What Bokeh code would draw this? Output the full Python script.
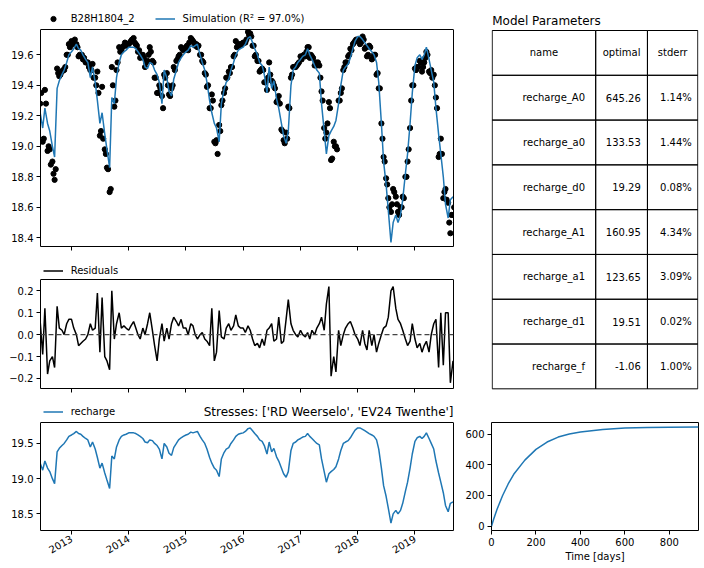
import math
from datetime import datetime
import pandas as pd
from bokeh.plotting import figure
from bokeh.layouts import row, column
from bokeh.models import (Range1d, FixedTicker, Legend, LegendItem, Label, Span,
                          ColumnDataSource, LinearAxis)
from bokeh.embed import file_html
from bokeh.resources import INLINE
from bokeh.core.properties import value

FONT = "DejaVu Sans"

# ---------------- data ----------------
# sample dates: 1st and 15th of each month
dates = pd.date_range("2012-06-15", "2019-09-01", freq="SMS")
# extra observation dates one week later (8th and 22nd)
mid_dates = dates + pd.Timedelta(days=7)

sim_2012 = [19.22, 19.12, 19.25, 19.15, 19.10, 19.00, 18.93, 19.38, 19.43, 19.47, 19.50, 19.55, 19.60]
sim_2013 = [19.62, 19.64, 19.67, 19.64, 19.63, 19.60, 19.57, 19.55, 19.45, 19.52, 19.42, 19.30,
            19.15, 19.22, 19.08, 18.98, 18.86, 19.32, 19.28, 19.45, 19.55, 19.60, 19.62, 19.63]
sim_2014 = [19.65, 19.65, 19.65, 19.64, 19.62, 19.60, 19.57, 19.52, 19.51, 19.55, 19.54, 19.50,
            19.47, 19.42, 19.28, 19.50, 19.45, 19.36, 19.33, 19.44, 19.50, 19.55, 19.58, 19.60]
sim_2015 = [19.62, 19.63, 19.66, 19.65, 19.66, 19.67, 19.60, 19.55, 19.50, 19.42, 19.30, 19.22,
            19.15, 19.12, 19.03, 19.28, 19.37, 19.42, 19.44, 19.50, 19.55, 19.60, 19.63, 19.64]
sim_2016 = [19.65, 19.67, 19.71, 19.72, 19.68, 19.64, 19.60, 19.55, 19.53, 19.47, 19.35, 19.52,
            19.38, 19.43, 19.31, 19.25, 19.15, 19.07, 19.02, 19.10, 19.40, 19.50, 19.52, 19.55]
sim_2017 = [19.57, 19.59, 19.60, 19.64, 19.60, 19.57, 19.53, 19.50, 19.48, 19.28, 19.10, 18.95,
            19.07, 19.10, 19.13, 19.17, 19.28, 19.40, 19.50, 19.52, 19.54, 19.58, 19.64, 19.69]
sim_2018 = [19.72, 19.72, 19.70, 19.68, 19.66, 19.64, 19.62, 19.60, 19.55, 19.42, 19.15, 18.90,
            18.75, 18.58, 18.37, 18.50, 18.55, 18.50, 18.55, 18.65, 18.82, 18.95, 19.15, 19.35]
sim_2019 = [19.53, 19.58, 19.60, 19.57, 19.60, 19.65, 19.57, 19.50, 19.42, 19.25, 19.08, 18.95,
            18.80, 18.62, 18.53, 18.65, 18.67]

res_2012 = [0.06, -0.09, 0.12, -0.18, -0.12, -0.10, -0.15, 0.13, 0.03, 0.02, 0.00, 0.05, 0.07]
res_2013 = [0.07, 0.03, 0.00, -0.05, -0.04, -0.03, -0.02, 0.00, 0.05, 0.02, 0.03, 0.19,
            -0.08, 0.17, -0.10, -0.12, -0.16, 0.20, -0.02, 0.05, 0.10, 0.03, 0.04, 0.03]
res_2014 = [0.02, 0.04, 0.06, 0.03, 0.00, -0.02, 0.03, 0.00, 0.05, 0.10, 0.02, -0.05,
            -0.12, -0.02, 0.05, -0.03, 0.03, -0.02, 0.05, 0.08, 0.06, 0.04, 0.07, 0.03]
res_2015 = [0.03, 0.00, 0.05, 0.04, 0.00, -0.02, 0.00, 0.01, -0.02, -0.03, -0.05, 0.12,
            -0.12, -0.08, 0.11, -0.01, -0.02, 0.03, 0.05, 0.02, 0.04, 0.09, 0.04, 0.03]
res_2016 = [0.03, 0.01, 0.04, 0.02, -0.02, -0.05, -0.04, -0.06, -0.02, -0.05, 0.02, 0.03,
            0.05, -0.03, -0.02, 0.08, -0.04, -0.03, 0.07, 0.16, 0.05, 0.02, 0.00, -0.01]
res_2017 = [0.02, 0.00, -0.01, 0.01, -0.02, 0.02, 0.00, 0.03, 0.05, 0.08, 0.02, 0.14,
            0.22, -0.19, -0.10, -0.17, 0.02, -0.05, 0.00, 0.03, 0.05, 0.06, 0.03, 0.00]
res_2018 = [-0.02, -0.05, 0.02, -0.04, -0.07, 0.02, -0.05, 0.00, -0.08, -0.04, 0.00, 0.03,
            0.04, 0.08, 0.20, 0.22, 0.12, 0.07, 0.05, 0.02, -0.02, -0.05, -0.03, 0.05]
res_2019 = [-0.02, -0.06, -0.04, -0.08, -0.05, -0.03, -0.08, 0.00, 0.05, 0.07, -0.15, 0.10,
            -0.14, 0.10, 0.10, -0.22, -0.12]

# observed heads read at the extra dates (8th and 22nd)
obs_mid_2012 = [19.35, 19.05, 19.28, 19.00, 18.88, 18.82, 18.85, 19.48, 19.47, 19.50, 19.52, 19.60, 19.65]
obs_mid_2013 = [19.68, 19.70, 19.65, 19.60, 19.60, 19.58, 19.55, 19.52, 19.50, 19.45, 19.40, 19.35,
                19.10, 19.05, 18.95, 18.85, 18.72, 19.40, 19.30, 19.55, 19.62, 19.65, 19.68, 19.67]
obs_mid_2014 = [19.68, 19.70, 19.68, 19.66, 19.63, 19.60, 19.58, 19.55, 19.60, 19.62, 19.55, 19.45,
                19.35, 19.38, 19.25, 19.45, 19.40, 19.33, 19.40, 19.50, 19.57, 19.60, 19.64, 19.64]
obs_mid_2015 = [19.66, 19.68, 19.70, 19.68, 19.67, 19.66, 19.60, 19.55, 19.47, 19.40, 19.25, 19.30,
                19.02, 18.95, 19.10, 19.30, 19.38, 19.45, 19.48, 19.52, 19.60, 19.65, 19.66, 19.67]
obs_mid_2016 = [19.68, 19.70, 19.73, 19.72, 19.66, 19.60, 19.56, 19.50, 19.50, 19.42, 19.45, 19.47,
                19.42, 19.38, 19.30, 19.28, 19.10, 19.02, 19.05, 19.25, 19.47, 19.52, 19.53, 19.55]
obs_mid_2017 = [19.57, 19.60, 19.62, 19.65, 19.60, 19.58, 19.55, 19.55, 19.45, 19.30, 19.05, 19.15,
                19.25, 18.92, 19.00, 18.98, 19.30, 19.38, 19.52, 19.55, 19.60, 19.63, 19.68, 19.70]
obs_mid_2018 = [19.70, 19.68, 19.70, 19.65, 19.60, 19.65, 19.58, 19.60, 19.48, 19.38, 19.05, 18.90,
                18.75, 18.60, 18.62, 18.70, 18.62, 18.55, 18.60, 18.66, 18.80, 18.98, 19.30, 19.40]
obs_mid_2019 = [19.50, 19.52, 19.55, 19.52, 19.58, 19.60, 19.48, 19.45, 19.40, 19.25, 18.95, 18.95,
                18.70, 18.65, 18.50, 18.55, 18.60]

simulation = sim_2012 + sim_2013 + sim_2014 + sim_2015 + sim_2016 + sim_2017 + sim_2018 + sim_2019
residuals = res_2012 + res_2013 + res_2014 + res_2015 + res_2016 + res_2017 + res_2018 + res_2019
obs_mid = (obs_mid_2012 + obs_mid_2013 + obs_mid_2014 + obs_mid_2015 + obs_mid_2016
           + obs_mid_2017 + obs_mid_2018 + obs_mid_2019)
# observations at the sample dates = simulation + residuals (residuals are obs - sim)
observed = [round(s + r, 3) for s, r in zip(simulation, residuals)]

year_labels = ["2013", "2014", "2015", "2016", "2017", "2018", "2019"]

step_time = [0, 10, 25, 50, 75, 100, 150, 200, 250, 300, 350, 400, 500, 600, 700, 800, 931]
step_value = [0, 47, 110, 200, 275, 338, 430, 500, 548, 580, 600, 613, 630, 639, 642, 644, 645]

param_header = ["name", "optimal", "stderr"]
param_names = ["recharge_A0", "recharge_a0", "recharge_d0", "recharge_A1",
               "recharge_a1", "recharge_d1", "recharge_f"]
param_optimal = ["645.26", "133.53", "19.29", "160.95", "123.65", "19.51", "-1.06"]
param_stderr = ["1.14%", "1.44%", "0.08%", "4.34%", "3.09%", "0.02%", "1.00%"]

# ---------------- helpers ----------------
BLUE = "#1f77b4"


def style_axes(p):
    p.grid.visible = False
    p.background_fill_color = "white"
    p.border_fill_color = "white"
    for ax in p.axis:
        ax.major_tick_out = 4
        ax.major_tick_in = 0
        ax.major_tick_line_color = "black"
        ax.minor_tick_line_color = None
        ax.major_label_text_font = FONT
        ax.major_label_text_font_size = "10px"
        ax.major_label_text_color = "black"
        ax.major_label_standoff = 3
        ax.axis_label_text_font = FONT
        ax.axis_label_text_font_size = "10px"
        ax.axis_label_text_font_style = "normal"
        ax.axis_label_text_color = "black"


def legend(p, items, vy):
    lg = Legend(items=items, location=(2.7, vy), orientation="horizontal",
                glyph_width=20, glyph_height=13, label_height=13, label_standoff=8,
                spacing=20, padding=0, margin=0, border_line_color=None,
                background_fill_alpha=0, label_text_font=FONT,
                label_text_font_size="10px", label_text_color="black")
    p.add_layout(lg)


year_ms = [float(pd.Timestamp(y + "-01-01").value // 10**6) for y in year_labels]

x_start = datetime(2012, 6, 17)
x_end = datetime(2019, 9, 4)
x_end_ms = float(pd.Timestamp(x_end).value // 10**6)
x_range = Range1d(x_start, x_end)
src = ColumnDataSource(dict(date=dates, sim=simulation, res=residuals))
src_obs = ColumnDataSource(dict(date=list(dates) + list(mid_dates),
                                obs=observed + obs_mid))

LW = 462


def ts_figure(height, bottom, box_px, head_px, y0, y1, ticks, labels):
    """Time-series panel whose frame also holds a header strip above the axes box."""
    ppu = box_px / (y1 - y0)
    p = figure(output_backend="svg", toolbar_location=None, x_axis_type="datetime",
               x_range=x_range, width=LW, height=height,
               min_border_left=40, min_border_right=9, min_border_top=0,
               min_border_bottom=bottom,
               y_range=Range1d(y0, y1 + head_px / ppu))
    p.outline_line_color = None
    style_axes(p)
    p.yaxis.bounds = (y0, y1)
    p.yaxis.axis_line_color = "black"
    p.xaxis.axis_line_color = "black"
    p.yaxis.ticker = FixedTicker(ticks=ticks)
    p.yaxis.major_label_overrides = {t: l for t, l in zip(ticks, labels)}
    p.xaxis.ticker = FixedTicker(ticks=year_ms)
    rax = LinearAxis(bounds=(y0, y1), ticker=FixedTicker(ticks=[]),
                     major_label_text_font_size="0px", axis_line_color="black",
                     major_tick_line_color=None, minor_tick_line_color=None)
    p.add_layout(rax, "right")
    p.add_layout(Span(location=y1, dimension="width", line_color="black", line_width=1))
    return p


# ---------------- top: observations and simulation ----------------
p1 = ts_figure(262, 16, 217, 29, 18.343, 19.766,
               [18.4, 18.6, 18.8, 19.0, 19.2, 19.4, 19.6],
               ["18.4", "18.6", "18.8", "19.0", "19.2", "19.4", "19.6"])
r_obs = p1.scatter("date", "obs", source=src_obs, size=5.2, color="black")
r_sim = p1.line("date", "sim", source=src, color=BLUE, line_width=1.5)
p1.xaxis.major_label_text_font_size = "0px"
legend(p1, [LegendItem(label="B28H1804_2", renderers=[r_obs]),
            LegendItem(label="Simulation (R² = 97.0%)", renderers=[r_sim])], 221.2)

# ---------------- residuals ----------------
p2 = ts_figure(142, 16, 109, 17, -0.246, 0.252,
               [-0.2, -0.1, 0.0, 0.1, 0.2], ["−0.2", "−0.1", "0.0", "0.1", "0.2"])
p2.add_layout(Span(location=0, dimension="width", line_color="#444444",
                   line_dash="5 3", line_width=1.2))
r_res = p2.line("date", "res", source=src, color="black", line_width=1.5)
p2.xaxis.major_label_text_font_size = "0px"
legend(p2, [LegendItem(label="Residuals", renderers=[r_res])], 111.5)

# ---------------- contribution ----------------
p3 = ts_figure(164, 38, 108, 18, 18.264, 19.797,
               [18.5, 19.0, 19.5], ["18.5", "19.0", "19.5"])
r_rch = p3.line("date", "sim", source=src, color=BLUE, line_width=1.5)
p3.xaxis.major_label_overrides = {t: l for t, l in zip(year_ms, year_labels)}
p3.xaxis.major_label_orientation = math.radians(30)
legend(p3, [LegendItem(label="recharge", renderers=[r_rch])], 111.8)
p3.add_layout(Label(x=x_end_ms, y=19.797, y_offset=11,
                    text="Stresses: ['RD Weerselo', 'EV24 Twenthe']",
                    text_align="right", text_baseline="middle",
                    text_font=FONT, text_font_size="12px", text_color="black"))

# ---------------- parameter table (frame 490..698 px, 1 unit = 1 px) ----------------
tx0 = 0.7                       # table left edge (px from frame left)
col_w = [104, 52, 50.6]
row_h = 44.79
n_rows = 8
ty_top = 404 - 30               # table top edge (px from column bottom)
col_edges = [tx0, tx0 + col_w[0], tx0 + col_w[0] + col_w[1], tx0 + sum(col_w)]
pt = figure(width=242, height=404, min_border_left=28, min_border_right=6,
            min_border_top=0, min_border_bottom=0,
            x_range=Range1d(0, 208), y_range=Range1d(0, 404),
            output_backend="svg", toolbar_location=None)
pt.axis.visible = False
pt.grid.visible = False
pt.outline_line_color = None
ql, qr, qt, qb = [], [], [], []
for r in range(n_rows):
    for c in range(3):
        ql.append(col_edges[c]); qr.append(col_edges[c + 1])
        qt.append(ty_top - r * row_h); qb.append(ty_top - (r + 1) * row_h)
pt.quad(left=ql, right=qr, top=qt, bottom=qb, fill_color=None,
        line_color="black", line_width=1)
centers = [(col_edges[c] + col_edges[c + 1]) / 2 for c in range(3)]
pt.text(x=centers, y=[ty_top - row_h / 2] * 3, text=param_header,
        text_align="center", text_baseline="middle",
        text_font=value(FONT), text_font_size="10px", text_color="black")
right_pads = [10.7, 6.7, 6.0]
columns = [param_names, param_optimal, param_stderr]
for c in range(3):
    ys = [ty_top - (i + 1.5) * row_h for i in range(len(param_names))]
    pt.text(x=[col_edges[c + 1] - right_pads[c]] * len(ys), y=ys, text=columns[c],
            text_align="right", text_baseline="middle",
            text_font=value(FONT), text_font_size="10px", text_color="black")
pt.add_layout(Label(x=tx0, y=404 - 20, text="Model Parameters",
                    text_align="left", text_baseline="middle",
                    text_font=FONT, text_font_size="12px", text_color="black"))

# ---------------- step response ----------------
ps = figure(width=242, height=164, min_border_left=28, min_border_right=6,
            min_border_top=18, min_border_bottom=38,
            x_range=Range1d(0, 931), y_range=Range1d(-28, 675),
            output_backend="svg", toolbar_location=None)
ps.line(step_time, step_value, color=BLUE, line_width=1.5)
ps.outline_line_color = "black"
style_axes(ps)
for ax in ps.axis:
    ax.axis_line_color = None
ps.xaxis.ticker = FixedTicker(ticks=[0, 200, 400, 600, 800])
ps.yaxis.ticker = FixedTicker(ticks=[0, 200, 400, 600])
ps.xaxis.axis_label = "Time [days]"
ps.xaxis.axis_label_standoff = 2

layout = row(column(p1, p2, p3, spacing=0), column(pt, ps, spacing=0), spacing=0)

open("out.html", "w").write(file_html(layout, INLINE))
